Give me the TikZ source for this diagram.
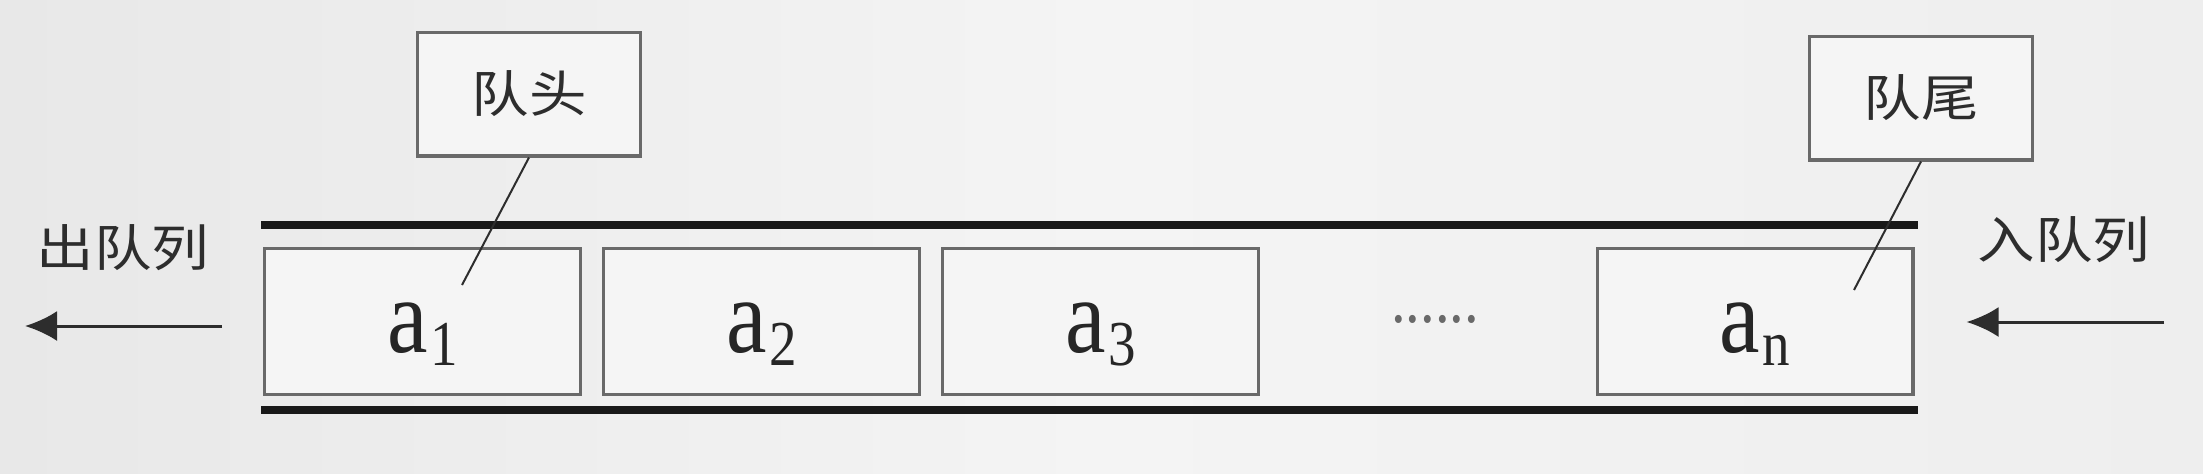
\documentclass[tikz,border=0pt]{standalone}
\usepackage{fontspec}
\usetikzlibrary{arrows.meta,positioning}
\setmainfont{Liberation Serif}
\newfontfamily\cjk{Noto Sans CJK SC}[FakeStretch=1.15]
\newfontfamily\elemfont{Liberation Serif}[FakeStretch=0.86]

\definecolor{bggray}{RGB}{238,238,238}
\definecolor{bgleft}{RGB}{232,232,232}
\definecolor{bgmid}{RGB}{244,244,244}
\definecolor{cellfill}{RGB}{245,245,245}
\definecolor{edgegray}{RGB}{105,105,105}
\definecolor{inkgray}{RGB}{45,45,45}

\newcommand{\elemlabel}[1]{{\elemfont\fontsize{26.5}{26.5}\selectfont a\kern0.6pt\raisebox{-3.25pt}{\fontsize{16}{16}\selectfont #1}}}

\tikzset{every picture/.style={line width=0.75pt}}
\tikzset{
  rail/.style={line width=1.8pt, draw=black!90},
  cell/.style={draw=edgegray, line width=0.8pt, fill=cellfill, inner sep=0pt,
    minimum width=78.95pt, minimum height=36.45pt,
    text height=15.5pt, text depth=0pt, text=black!85},
  tag/.style={draw=edgegray, line width=0.8pt, fill=cellfill, inner sep=0pt,
    minimum width=55.7pt, minimum height=30.95pt,
    font=\cjk\fontsize{12.5}{12.5}\selectfont, text=inkgray},
  note/.style={inner sep=0pt, font=\cjk\fontsize{12.5}{12.5}\selectfont, text=inkgray},
  dotrow/.style={inner sep=0pt, font=\elemfont\fontsize{17}{17}\selectfont, text=edgegray},
  pointer/.style={line width=0.5pt, draw=inkgray},
  flow/.style={-{Latex[length=8pt,width=7.5pt]}, line width=0.75pt, draw=inkgray}
}

\begin{document}
\begin{tikzpicture}[x=0.25pt,y=0.25pt,yscale=-1,xscale=1]
	\useasboundingbox (0,0) rectangle (2203,473);
	\shade[left color=bgleft, right color=bggray, middle color=bgmid] (0,0) rectangle (2203,473);

	% the two rails of the queue
	\draw[rail] (261,225) -- (1918,225);
	\draw[rail] (261,410) -- (1918,410);

	% cells
	\node[cell] (a1) at (422.5,321.5) {\elemlabel{1}};
	\node[cell, right=5pt of a1] (a2) {\elemlabel{2}};
	\node[cell, right=5pt of a2] (a3) {\elemlabel{3}};
	\node[dotrow] (gap) at (1435,319) {......};
	\node[cell] (an) at (1755,321.5) {\elemlabel{n}};

	% head and tail tags
	\node[tag] (head) at (529,94) {队头};
	\node[tag] (tail) at (1921,98) {队尾};
	\coordinate (headend) at (462,285);
	\coordinate (tailend) at (1854,290);
	\draw[pointer] (head.south) -- (headend);
	\draw[pointer] (tail.south) -- (tailend);

	% out and in
	\node[note] (deq) at (123,248) {出队列};
	\node[note] (enq) at (2064,240) {入队列};
	\coordinate (deqtip) at (25,326);
	\coordinate (enqstart) at (2164,322);
	\draw[flow, shorten <=10.25pt] (a1.west |- deqtip) -- (deqtip);
	\draw[flow, shorten >=13pt] (enqstart) -- (an.east |- enqstart);

\end{tikzpicture}
\end{document}
